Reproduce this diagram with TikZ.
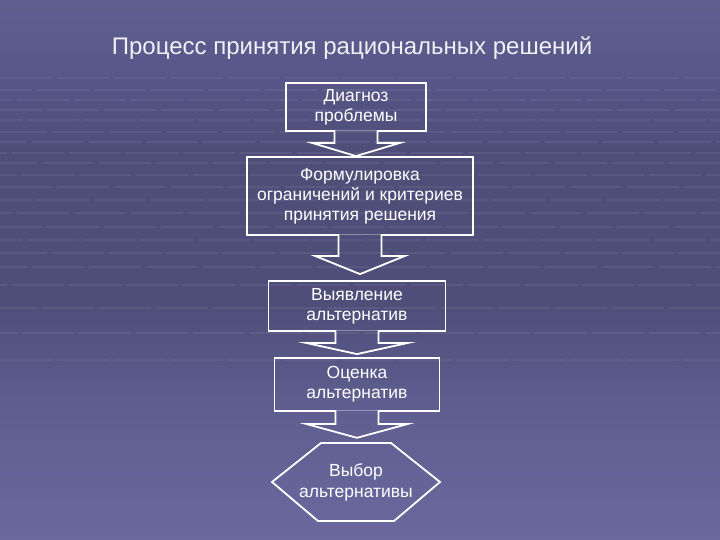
\documentclass[tikz,border=0pt]{standalone}
\usepackage{fontspec}
\setmainfont{Liberation Sans}
\usetikzlibrary{calc}
\definecolor{bgA}{HTML}{60608F}
\definecolor{bgB}{HTML}{57578A}
\definecolor{bgC}{HTML}{4E4E79}
\definecolor{bgD}{HTML}{5D5D8F}
\definecolor{bgE}{HTML}{69699E}
\definecolor{titlecol}{HTML}{F0F0F4}
\pgfdeclareverticalshading{bgsh}{100bp}{color(0bp)=(bgE); color(25bp)=(bgE); color(38bp)=(bgD); color(47bp)=(bgC); color(61bp)=(bgC); color(68.5bp)=(bgB); color(75bp)=(bgA); color(100bp)=(bgA)}
\newcommand{\bgpaint}{%
  \shade[shading=bgsh] (0,0) rectangle (720,540);
  \foreach \yy/\ph in {78/0,90/20,100/40,110/10,120/30,132/5,142/25,153/45,163/15,175/35,187/0,200/20,213/40,227/10,240/30,253/5,267/25,285/45,308/15,333/35,360/0}
    \draw[gridline, dash phase=\ph] (0,\yy) -- (720,\yy);
}
\newcommand{\arrowpath}[5]{let \p1=(#1.south), \p2=(#2.north) in
  (\x1-21.5pt,\y1+1.5pt) -- (\x1-21.5pt,\y1-#3) -- (\x1-#4,\y1-#3) -- (\x1,\y2+#5)
  -- (\x1+#4,\y1-#3) -- (\x1+21.5pt,\y1-#3) -- (\x1+21.5pt,\y1+1.5pt)}
\newcommand{\blockarrow}[5]{%
  \begin{scope}\clip \arrowpath{#1}{#2}{#3}{#4}{#5} -- cycle; \bgpaint\end{scope}
  \draw[arrline] \arrowpath{#1}{#2}{#3}{#4}{#5};
}
\begin{document}
\begin{tikzpicture}[x=1pt,y=-1pt,
  gridline/.style={white, opacity=0.06, line width=1.2pt, dash pattern=on 52pt off 5pt},
  stepbox/.style={draw=white, line width=1.8pt, inner sep=0pt, align=center, text=white,
    font=\fontsize{17.5}{20}\selectfont},
  hexlabel/.style={inner sep=0pt, align=center, text=white, font=\fontsize{17.5}{21}\selectfont},
  arrline/.style={draw=white, line width=1.8pt, line join=miter},
  titlestyle/.style={inner sep=0pt, text=titlecol, font=\fontsize{24}{28}\selectfont}]
\useasboundingbox (0,0) rectangle (720,540);
\bgpaint
\node[titlestyle] (title) at (352,48) {Процесс принятия рациональных решений};
\node[stepbox, minimum width=140pt, minimum height=48pt] (b1) at (356,107) {Диагноз\\проблемы};
\node[stepbox, minimum width=226pt, minimum height=78pt] (b2) at (360,196) {Формулировка\\ограничений и критериев\\принятия решения};
\node[stepbox, minimum width=177pt, minimum height=50pt] (b3) at (357,306) {Выявление\\альтернатив};
\node[stepbox, minimum width=165pt, minimum height=53pt] (b4) at (357,384.5) {Оценка\\альтернатив};
\node[hexlabel, minimum width=168pt, minimum height=78pt] (b5) at (356,482) {Выбор\\альтернативы};
\draw[arrline, line join=miter] ($(b5.center)+(-84,0)$) -- ($(b5.center)+(-35,-39)$) -- ($(b5.center)+(35,-39)$)
  -- ($(b5.center)+(84,0)$) -- ($(b5.center)+(38,39)$) -- ($(b5.center)+(-38,39)$) -- cycle;
\blockarrow{b1}{b2}{11pt}{44pt}{0pt}
\blockarrow{b2}{b3}{20pt}{45pt}{6pt}
\blockarrow{b3}{b4}{11pt}{51pt}{3pt}
\blockarrow{b4}{b5}{12pt}{51pt}{5pt}
\end{tikzpicture}
\end{document}
